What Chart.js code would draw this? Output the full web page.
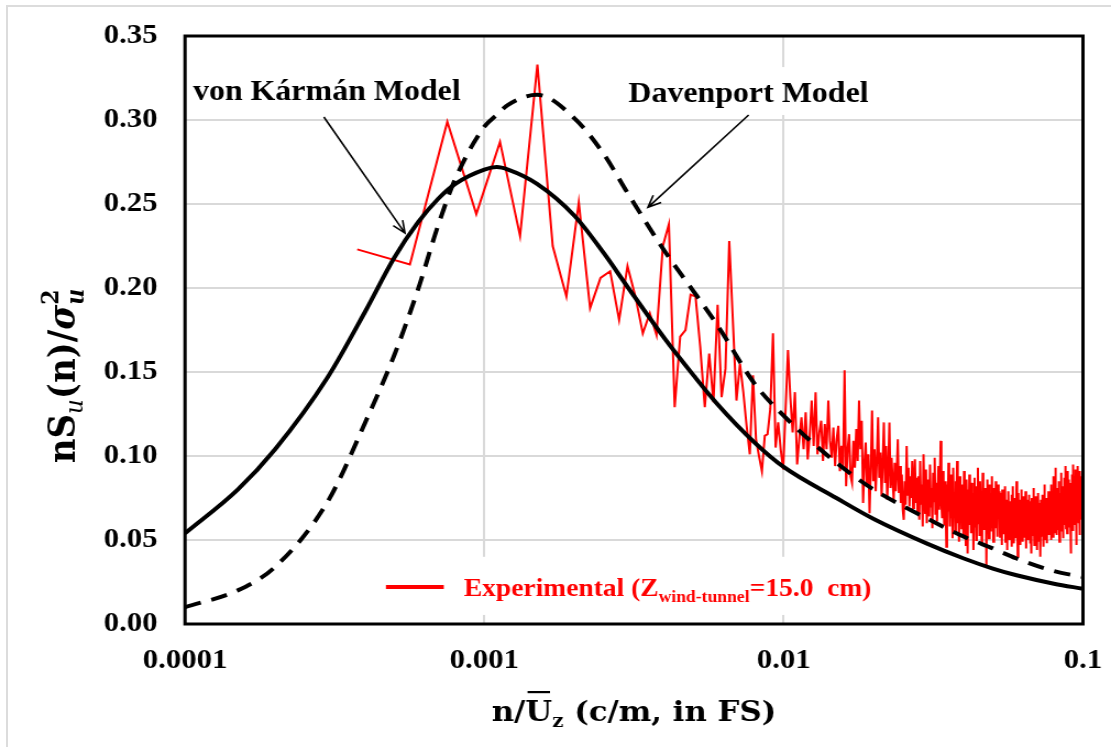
<!DOCTYPE html>
<html lang="en">
<head>
<meta charset="UTF-8">
<meta name="viewport" content="width=device-width, initial-scale=1.0">
<title>Wind spectrum</title>
<script src="https://cdn.jsdelivr.net/npm/chart.js"></script>
<style>
    html, body {
      margin: 0;
      padding: 0;
      background: #fff;
      overflow: hidden;
    }
    #wrap {
      position: relative;
      width: 1111px;
      height: 747px;
    }
    #frame {
      position: absolute;
      left: 6px;
      top: 5px;
      width: 1300px;
      height: 900px;
      border: 2px solid #dcdcdc;
    }
    #spectrum {
      position: absolute;
      left: 0;
      top: 0;
    }
</style>
</head>
<body>
<div id="wrap">
<div id="frame"></div>
<!-- drawn a bit narrower and stretched, like the original figure -->
<canvas id="spectrum" width="1010" height="747" style="width:1111px;height:747px"></canvas>
</div>

<script>
    // axis ticks
    const xTickValues = [0.0001, 0.001, 0.01, 0.1];
    const xTickLabels = ['0.0001', '0.001', '0.01', '0.1'];
    const yTickValues = [0, 0.05, 0.10, 0.15, 0.20, 0.25, 0.30, 0.35];
    const yTickLabels = ['0.00', '0.05', '0.10', '0.15', '0.20', '0.25', '0.30', '0.35'];

    // model spectra
    const modelFreq = [0.0001, 0.00015, 0.0002, 0.0003, 0.0004, 0.0005, 0.0006, 0.0007, 0.0008, 0.001,
      0.0011, 0.0012, 0.0015, 0.002, 0.0025, 0.003, 0.004, 0.005, 0.006, 0.008,
      0.01, 0.015, 0.02, 0.03, 0.04, 0.05, 0.06, 0.08, 0.1];
    const vonKarman = [0.054, 0.080, 0.104, 0.147, 0.186, 0.218, 0.239, 0.253, 0.262, 0.2705,
      0.272, 0.2705, 0.262, 0.243, 0.221, 0.201, 0.170, 0.148, 0.131, 0.108,
      0.0935, 0.075, 0.0625, 0.048, 0.039, 0.033, 0.029, 0.024, 0.021];
    const davenport = [0.010, 0.020, 0.034, 0.073, 0.120, 0.160, 0.199, 0.237, 0.265, 0.296,
      0.303, 0.309, 0.315, 0.301, 0.280, 0.257, 0.222, 0.198, 0.178, 0.143,
      0.124, 0.096, 0.080, 0.063, 0.052, 0.045, 0.039, 0.0315, 0.028];

    // experimental spectrum: equally spaced frequency bins, first bin is #2
    const expBinWidth = 0.000188;
    const expFirstBin = 2;
    const expLowBins = [0.223, 0.214, 0.299, 0.244, 0.287, 0.231, 0.333, 0.225, 0.195, 0.251,
      0.188, 0.206, 0.210, 0.181, 0.213, 0.195, 0.173, 0.185, 0.172, 0.225,
      0.238, 0.129, 0.171, 0.175, 0.196, 0.195, 0.165, 0.129, 0.161, 0.132,
      0.190, 0.135, 0.152, 0.228, 0.180, 0.133, 0.155, 0.138, 0.118, 0.101,
      0.148, 0.110, 0.100, 0.091, 0.112, 0.113, 0.128, 0.173, 0.105, 0.120,
      0.104, 0.092, 0.128, 0.163, 0.135, 0.114, 0.138, 0.095, 0.110];
    const expMidBins = [0.123, 0.104, 0.126, 0.098, 0.112, 0.133, 0.106, 0.138, 0.101, 0.114,
      0.121, 0.097, 0.119, 0.104, 0.133, 0.109, 0.099, 0.117, 0.094, 0.110,
      0.118, 0.091, 0.106, 0.093, 0.151, 0.082, 0.104, 0.113, 0.088, 0.084,
      0.109, 0.093, 0.116, 0.097, 0.133, 0.104, 0.121, 0.072, 0.096, 0.108,
      0.082, 0.101, 0.066, 0.093, 0.127, 0.085, 0.104, 0.079, 0.098, 0.123,
      0.087, 0.102, 0.076, 0.097, 0.120, 0.084, 0.106, 0.074, 0.093, 0.120,
      0.081, 0.099, 0.085, 0.074, 0.096, 0.079, 0.091, 0.110, 0.078, 0.094,
      0.072, 0.089, 0.068, 0.062, 0.085, 0.071, 0.106, 0.077, 0.093, 0.070,
      0.088, 0.075, 0.097, 0.069, 0.085, 0.098, 0.072, 0.087, 0.066];
    const expBandA = [0.088, 0.062, 0.097, 0.071, 0.083, 0.058, 0.101, 0.075, 0.066, 0.092,
      0.060, 0.086, 0.079, 0.064, 0.095, 0.070, 0.081, 0.057, 0.090, 0.073,
      0.099, 0.065, 0.084, 0.061, 0.077, 0.094, 0.068, 0.087, 0.109, 0.072,
      0.063, 0.091, 0.076, 0.059, 0.085, 0.070, 0.046, 0.083, 0.067, 0.096];
    const expBandB = [0.074, 0.058, 0.089, 0.063, 0.080, 0.051, 0.093, 0.069, 0.077, 0.055,
      0.085, 0.066, 0.097, 0.060, 0.072, 0.049, 0.088, 0.064, 0.079, 0.057,
      0.083, 0.070, 0.052, 0.091, 0.061, 0.075, 0.047, 0.086, 0.068, 0.042,
      0.080, 0.059, 0.089, 0.065, 0.073, 0.054, 0.084, 0.062, 0.078, 0.044,
      0.071, 0.087, 0.058, 0.076, 0.050, 0.082, 0.067, 0.093, 0.060, 0.074,
      0.053, 0.085, 0.063, 0.079, 0.048, 0.072, 0.090, 0.061, 0.069, 0.056,
      0.081, 0.064, 0.077, 0.035, 0.070, 0.086, 0.059, 0.074, 0.051, 0.083,
      0.066, 0.078, 0.055, 0.071, 0.088, 0.062, 0.075, 0.049, 0.081, 0.064,
      0.073, 0.057, 0.085, 0.060, 0.076, 0.052, 0.070, 0.083, 0.063, 0.079];
    const expBandC = [0.066, 0.052, 0.078, 0.058, 0.071, 0.047, 0.080, 0.063, 0.069, 0.054,
      0.076, 0.060, 0.082, 0.049, 0.067, 0.057, 0.074, 0.044, 0.070, 0.061,
      0.079, 0.055, 0.065, 0.050, 0.073, 0.059, 0.068, 0.046, 0.077, 0.062,
      0.082, 0.056, 0.070, 0.048, 0.075, 0.064, 0.059, 0.071, 0.051, 0.085,
      0.060, 0.073, 0.040, 0.067, 0.078, 0.053, 0.069, 0.058, 0.074, 0.047,
      0.063, 0.080, 0.055, 0.070, 0.061, 0.049, 0.076, 0.057, 0.066, 0.052,
      0.072, 0.060, 0.079, 0.045, 0.068, 0.056, 0.074, 0.063, 0.050, 0.071,
      0.059, 0.077, 0.054, 0.066, 0.048, 0.073, 0.061, 0.069, 0.042, 0.075,
      0.058, 0.067, 0.053, 0.081, 0.062, 0.070, 0.047, 0.064, 0.057, 0.076,
      0.051, 0.068, 0.060, 0.073, 0.044, 0.066, 0.055, 0.078, 0.061, 0.069,
      0.049, 0.072, 0.058, 0.063, 0.040, 0.074, 0.065, 0.056, 0.070, 0.052,
      0.077, 0.060, 0.067, 0.046, 0.071, 0.059, 0.083, 0.054, 0.068, 0.062,
      0.050, 0.075, 0.057, 0.066, 0.048, 0.072, 0.064, 0.058, 0.079, 0.053, 0.069];
    const expBandD = [0.070, 0.055, 0.079, 0.061, 0.074, 0.050, 0.083, 0.063, 0.068, 0.057,
      0.076, 0.052, 0.071, 0.065, 0.088, 0.059, 0.073, 0.054, 0.080, 0.062,
      0.093, 0.066, 0.058, 0.077, 0.053, 0.070, 0.064, 0.081, 0.056, 0.072,
      0.060, 0.085, 0.067, 0.049, 0.075, 0.063, 0.078, 0.058, 0.069, 0.090,
      0.061, 0.074, 0.055, 0.082, 0.066, 0.071, 0.051, 0.079, 0.064, 0.087,
      0.059, 0.073, 0.068, 0.094, 0.062, 0.076, 0.057, 0.083, 0.065, 0.070,
      0.054, 0.080, 0.067, 0.091, 0.060, 0.075, 0.063, 0.086, 0.058, 0.072,
      0.069, 0.084, 0.061, 0.077, 0.042, 0.074, 0.066, 0.089, 0.063, 0.081,
      0.056, 0.078, 0.070, 0.095, 0.064, 0.073, 0.059, 0.088, 0.067, 0.080,
      0.062, 0.092, 0.069, 0.076, 0.047, 0.083, 0.071, 0.090, 0.065, 0.079,
      0.072, 0.094, 0.066, 0.082, 0.060, 0.087, 0.070, 0.077, 0.053, 0.091,
      0.068, 0.080, 0.064, 0.085, 0.073, 0.078, 0.069, 0.088, 0.062, 0.075, 0.070];

    const expValues = [].concat(expLowBins, expMidBins, expBandA, expBandB, expBandC, expBandD);

    const serif = '"Liberation Serif", "Times New Roman", serif';
    const mathSerif = '"DejaVu Serif", serif';
    const tickFont = { family: serif, size: 28, weight: 'bold' };

    // draws a row of text pieces (sub/superscripts) starting at x
    function runsWidth(ctx, runs) {
      let w = 0;
      runs.forEach(r => {
        ctx.font = r.font;
        r.w = ctx.measureText(r.t).width;
        if (!r.keep) w += r.w;
      });
      return w;
    }
    function drawRuns(ctx, runs, x, y) {
      let cx = x;
      runs.forEach(r => {
        ctx.font = r.font;
        ctx.fillText(r.t, cx, y + (r.dy || 0));
        if (r.bar) {
          ctx.fillRect(cx + 2, y - 30, r.w - 4, 2.2);
        }
        if (!r.keep) cx += r.w;
      });
    }
    function arrow(ctx, x1, y1, x2, y2) {
      const a = Math.atan2(y2 - y1, x2 - x1);
      const len = 13, spread = 0.4;
      ctx.beginPath();
      ctx.moveTo(x1, y1);
      ctx.lineTo(x2, y2);
      ctx.moveTo(x2 - len * Math.cos(a - spread), y2 - len * Math.sin(a - spread));
      ctx.lineTo(x2, y2);
      ctx.lineTo(x2 - len * Math.cos(a + spread), y2 - len * Math.sin(a + spread));
      ctx.stroke();
    }

    const decorations = {
      id: 'decorations',
      afterDatasetsDraw(chart) {
        const { ctx, chartArea: a } = chart;
        ctx.save();
        ctx.strokeStyle = '#000';
        ctx.lineWidth = 3;
        ctx.strokeRect(a.left, a.top, a.right - a.left, a.bottom - a.top);
        ctx.restore();
      },
      afterDraw(chart) {
        const { ctx, chartArea: a } = chart;
        const px = f => chart.scales.x.getPixelForValue(f);
        const py = v => chart.scales.y.getPixelForValue(v);
        ctx.save();

        // white boxes behind the labels hide the grid
        ctx.fillStyle = '#fff';
        ctx.fillRect(px(0.000102), py(0.328), px(0.00098) - px(0.000102), py(0.304) - py(0.328));
        ctx.fillRect(px(0.0027), py(0.3315), px(0.022) - px(0.0027), py(0.303) - py(0.3315));
        ctx.fillRect(px(0.000431), py(0.040), px(0.0209) - px(0.000431), py(0.0054) - py(0.040));

        // model labels and arrows
        ctx.fillStyle = '#000';
        ctx.textBaseline = 'alphabetic';
        ctx.font = 'bold 29px ' + serif;
        ctx.fillText('von Kármán Model', px(0.0001063), py(0.312));
        ctx.fillText('Davenport Model', px(0.00303), py(0.3107));
        ctx.strokeStyle = '#000';
        ctx.lineWidth = 1.6;
        arrow(ctx, px(0.000291), py(0.3018), px(0.000543), py(0.2327));
        arrow(ctx, px(0.00764), py(0.303), px(0.00352), py(0.248));

        // legend
        ctx.strokeStyle = '#ff0000';
        ctx.lineWidth = 4;
        ctx.beginPath();
        ctx.moveTo(px(0.000469), py(0.022));
        ctx.lineTo(px(0.000732), py(0.022));
        ctx.stroke();
        ctx.fillStyle = '#ff0000';
        const legendRuns = [
          { t: 'Experimental (Z', font: 'bold 25px ' + serif },
          { t: 'wind-tunnel', font: 'bold 16px ' + serif, dy: 6 },
          { t: '=15.0  cm)', font: 'bold 25px ' + serif }
        ];
        runsWidth(ctx, legendRuns);
        drawRuns(ctx, legendRuns, px(0.000854), py(0.0167));

        // x axis title
        ctx.fillStyle = '#000';
        const xTitle = [
          { t: 'n/', font: 'bold 28px ' + mathSerif },
          { t: 'U', font: 'bold 28px ' + mathSerif, bar: true },
          { t: 'z', font: 'bold 18px ' + mathSerif, dy: 6 },
          { t: ' (c/m, in FS)', font: 'bold 28px ' + mathSerif }
        ];
        const xw = runsWidth(ctx, xTitle);
        drawRuns(ctx, xTitle, (a.left + a.right) / 2 - xw / 2, 721);

        // y axis title, rotated
        const yTitle = [
          { t: 'nS', font: 'bold 34px ' + mathSerif },
          { t: 'u', font: 'italic 23px ' + mathSerif, dy: 7 },
          { t: '(n)/', font: 'bold 34px ' + mathSerif },
          { t: 'σ', font: 'bold italic 34px ' + mathSerif },
          { t: '2', font: 'bold 22px ' + mathSerif, dy: -15, keep: true },
          { t: 'u', font: 'bold italic 22px ' + mathSerif, dy: 8 }
        ];
        const yw = runsWidth(ctx, yTitle);
        ctx.translate(68, 376);
        ctx.rotate(-Math.PI / 2);
        drawRuns(ctx, yTitle, -yw / 2, 0);
        ctx.restore();
      }
    };

    const ctx = document.getElementById('spectrum').getContext('2d');
    new Chart(ctx, {
      type: 'line',
      data: {
        datasets: [
          {
            label: 'von Kármán Model',
            data: modelFreq.map((f, i) => ({ x: f, y: vonKarman[i] })),
            borderColor: '#000',
            borderWidth: 4,
            cubicInterpolationMode: 'monotone',
            order: 1
          },
          {
            label: 'Davenport Model',
            data: modelFreq.map((f, i) => ({ x: f, y: davenport[i] })),
            borderColor: '#000',
            borderWidth: 4,
            borderDash: [15, 10],
            cubicInterpolationMode: 'monotone',
            order: 2
          },
          {
            label: 'Experimental',
            data: expValues.map((v, i) => ({ x: (i + expFirstBin) * expBinWidth, y: v })),
            borderColor: '#ff0000',
            borderWidth: 2,
            tension: 0,
            order: 3
          }
        ]
      },
      options: {
        responsive: false,
        animation: false,
        events: [],
        layout: { padding: { left: 0, right: 25.5, top: 36, bottom: 0 } },
        elements: { point: { radius: 0 } },
        plugins: {
          legend: { display: false },
          tooltip: { enabled: false }
        },
        scales: {
          x: {
            type: 'logarithmic',
            min: 0.0001,
            max: 0.1,
            afterBuildTicks: scale => { scale.ticks = xTickValues.map(v => ({ value: v })); },
            afterFit: scale => {
              scale.height = 123;
              scale.paddingLeft = 0;
              scale.paddingRight = 0;
            },
            ticks: {
              callback: (v, i) => xTickLabels[i],
              font: tickFont,
              color: '#000',
              padding: 20,
              maxRotation: 0,
              autoSkip: false
            },
            grid: { color: '#d9d9d9', lineWidth: 2, drawTicks: false },
            border: { display: false }
          },
          y: {
            min: 0,
            max: 0.35,
            afterBuildTicks: scale => { scale.ticks = yTickValues.map(v => ({ value: v })); },
            afterFit: scale => {
              scale.width = 168.2;
              scale.paddingTop = 0;
              scale.paddingBottom = 0;
            },
            ticks: {
              callback: (v, i) => yTickLabels[i],
              font: tickFont,
              color: '#000',
              padding: 25
            },
            grid: { color: '#d9d9d9', lineWidth: 2, drawTicks: false },
            border: { display: false }
          }
        }
      },
      plugins: [decorations]
    });
</script>
</body>
</html>
